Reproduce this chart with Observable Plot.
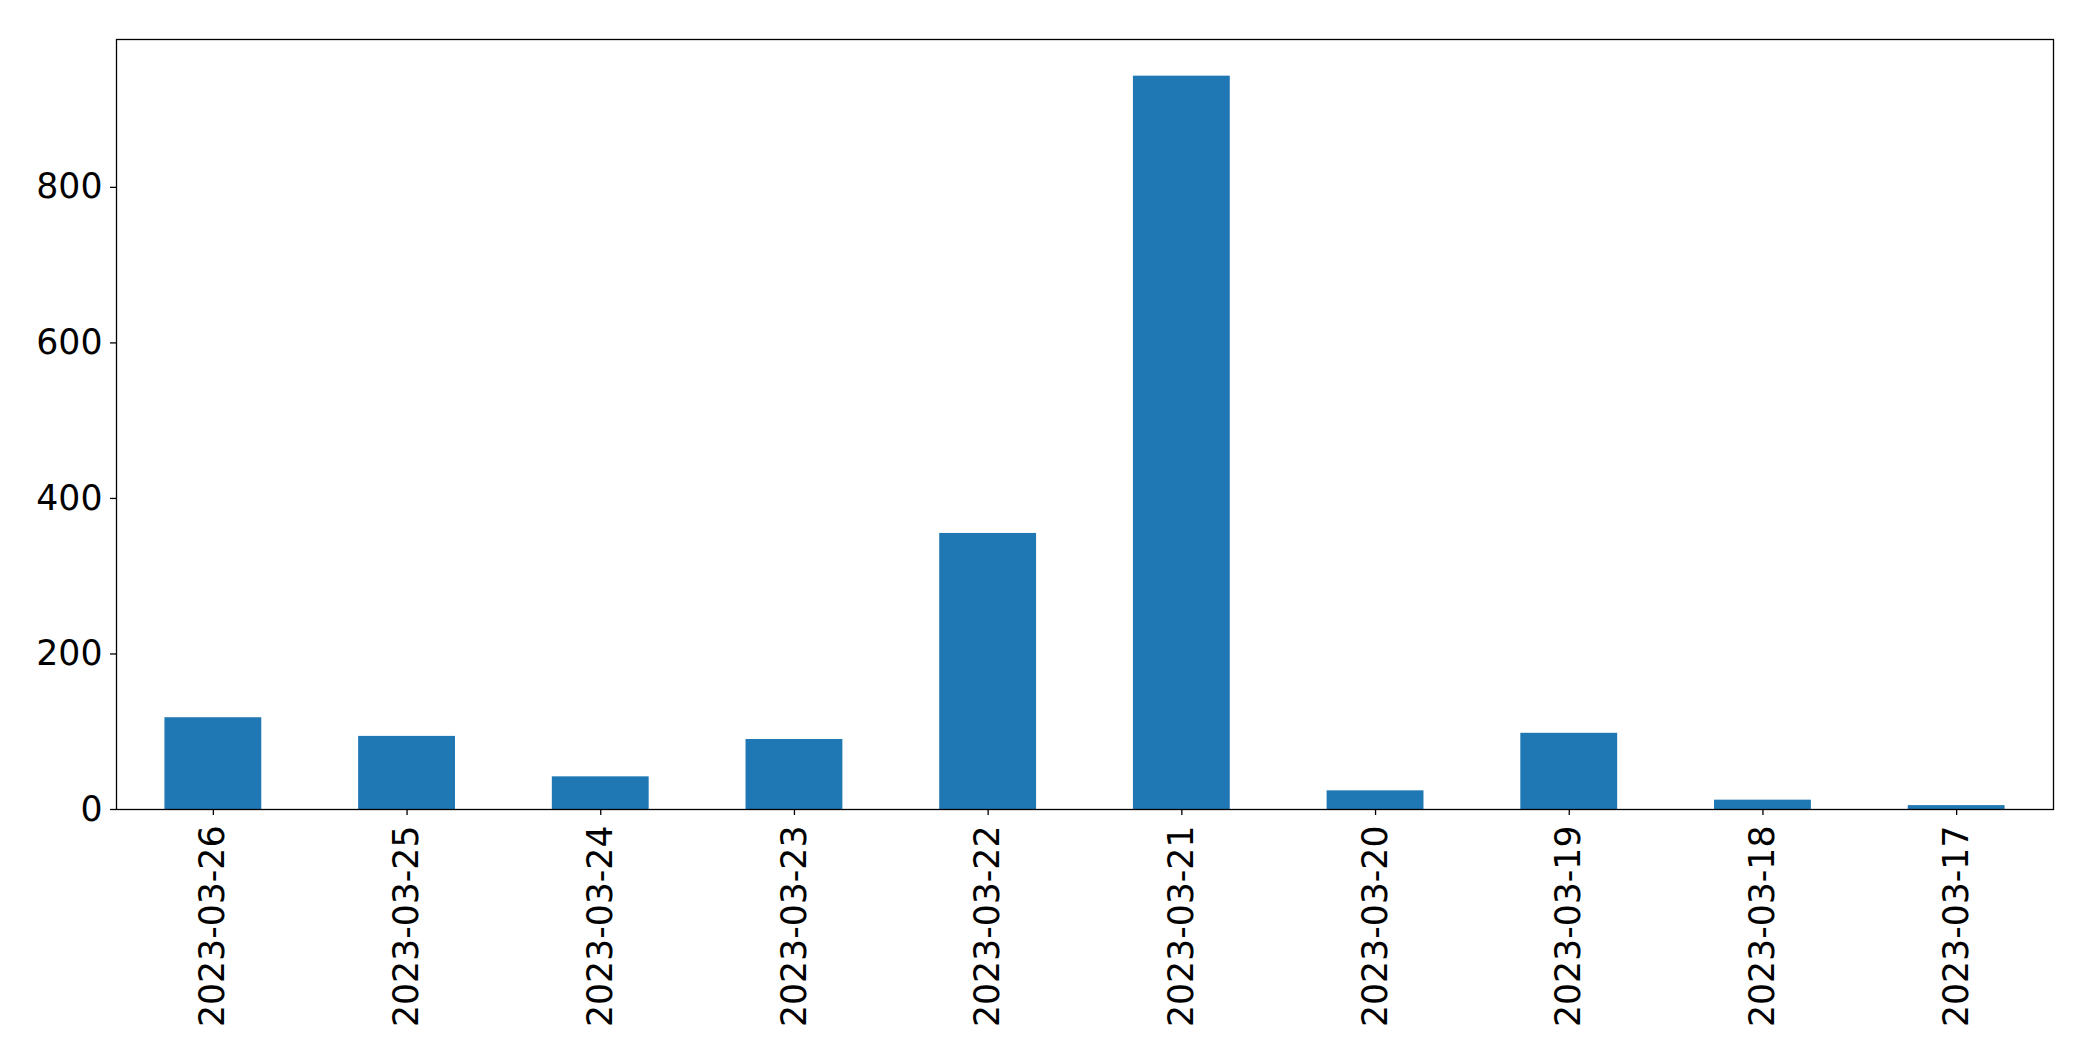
<!DOCTYPE html>
<html>
<head>
<meta charset="utf-8">
<script src="https://cdn.jsdelivr.net/npm/d3@7"></script>
<script src="https://cdn.jsdelivr.net/npm/@observablehq/plot@0.6"></script>
<style>
  html, body { margin: 0; padding: 0; background: #fff; }
  #chart svg { display: block; }
</style>
</head>
<body>
<div id="chart"></div>
<script>
const dates = ["2023-03-26","2023-03-25","2023-03-24","2023-03-23","2023-03-22","2023-03-21","2023-03-20","2023-03-19","2023-03-18","2023-03-17"];
const counts = [118, 94, 42, 90, 355, 943, 24, 98, 12, 5];
const yTicks = [0, 200, 400, 600, 800];

const data = dates.map((d, i) => ({date: d, value: counts[i]}));
const yMax = d3.max(counts) * 1.05;

const chart = Plot.plot({
  width: 2093,
  height: 1061,
  marginLeft: 116,
  marginRight: 40,
  marginTop: 39,
  marginBottom: 252,
  style: {fontFamily: "DejaVu Sans", color: "#000", background: "#fff"},
  x: {type: "band", domain: dates, paddingInner: 0.5, paddingOuter: 0.25, round: false},
  y: {domain: [0, yMax]},
  marks: [
    Plot.barY(data, {x: "date", y: "value", fill: "#1f77b4"}),
    Plot.frame({stroke: "#000", strokeWidth: 1.3}),
    Plot.axisY({ticks: yTicks, tickSize: 6, tickPadding: 8, fontSize: 34.7, label: null, stroke: "#000", strokeWidth: 1.3}),
    Plot.axisX({tickSize: 6, tickPadding: 10, tickRotate: -90, fontSize: 34.7, label: null, stroke: "#000", strokeWidth: 1.3})
  ]
});
document.getElementById("chart").appendChild(chart);
</script>
</body>
</html>
